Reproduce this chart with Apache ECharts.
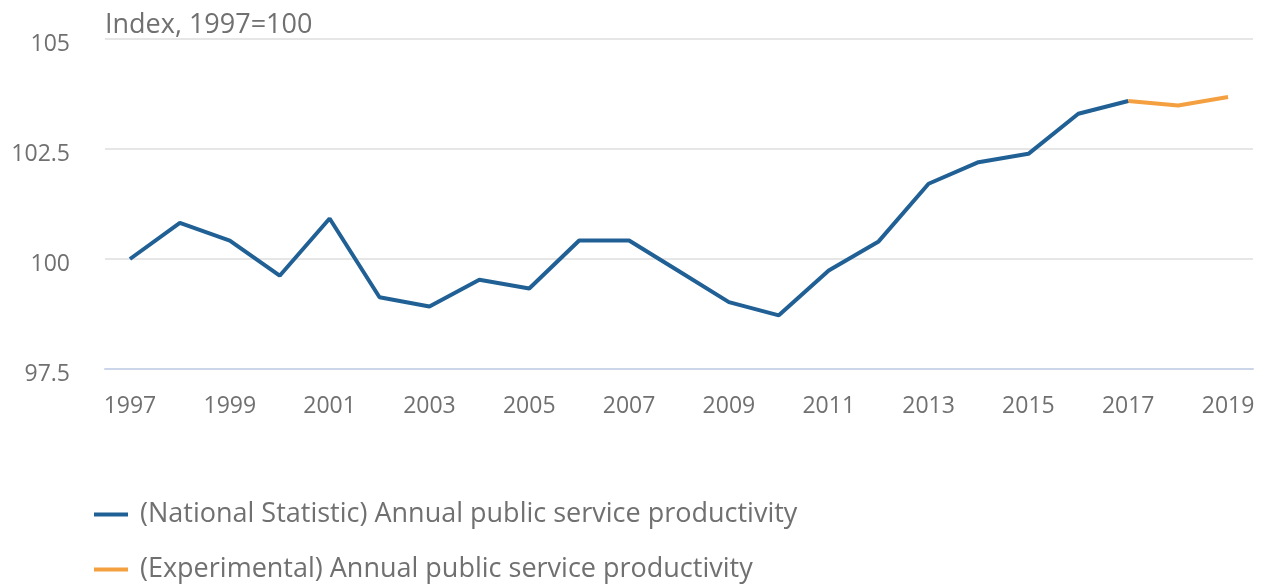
<!DOCTYPE html>
<html>
<head>
<meta charset="utf-8">
<script src="https://cdn.jsdelivr.net/npm/echarts@6/dist/echarts.min.js"></script>
<style>
  html, body { margin: 0; padding: 0; background: #fff; }
  #chart { width: 1265px; height: 584px; }
</style>
</head>
<body>
<div id="chart"></div>
<script>
var years = ['1997', '1998', '1999', '2000', '2001', '2002', '2003', '2004', '2005', '2006', '2007',
             '2008', '2009', '2010', '2011', '2012', '2013', '2014', '2015', '2016', '2017', '2018', '2019'];

// National Statistic series, 1997-2017
var nationalValues = [100, 100.82, 100.42, 99.62, 100.92, 99.13, 98.92, 99.53, 99.33, 100.42, 100.42,
                      99.72, 99.02, 98.72, 99.74, 100.40, 101.71, 102.20, 102.39, 103.30, 103.59, null, null];

// Experimental series, 2017-2019
var experimentalValues = [null, null, null, null, null, null, null, null, null, null, null,
                          null, null, null, null, null, null, null, null, null, 103.59, 103.49, 103.68];

var yTicks = [97.5, 100, 102.5, 105];

var textColor = '#707070';
var font = '"Open Sans", "Noto Sans", sans-serif';

var myChart = echarts.init(document.getElementById('chart'));

var option = {
    animation: false,
    textStyle: { fontFamily: font },
    title: {
        text: 'Index, 1997=100',
        left: 100,
        top: 7,
        textStyle: { color: textColor, fontSize: 27, fontWeight: 'normal', fontFamily: font }
    },
    legend: {
        orient: 'vertical',
        left: 94,
        top: 501,
        padding: 0,
        itemWidth: 34,
        itemHeight: 4,
        itemGap: 28,
        icon: 'rect',
        textStyle: { color: textColor, fontSize: 27, fontFamily: font, padding: [0, 0, 0, 7] },
        data: ['(National Statistic) Annual public service productivity',
               '(Experimental) Annual public service productivity']
    },
    grid: {
        left: 105,
        right: 12,
        top: 39,
        bottom: 215,
        containLabel: false
    },
    xAxis: {
        type: 'category',
        data: years,
        boundaryGap: true,
        axisLine: { lineStyle: { color: '#ccd6eb', width: 2 } },
        axisTick: {
            alignWithLabel: true,
            interval: 1,
            length: 21,
            lineStyle: { color: '#ccd6eb', width: 2 }
        },
        axisLabel: {
            interval: 1,
            color: textColor,
            fontSize: 23,
            fontFamily: font,
            margin: 26
        },
        splitLine: { show: false }
    },
    yAxis: {
        type: 'value',
        min: yTicks[0],
        max: yTicks[yTicks.length - 1],
        interval: 2.5,
        axisLine: { show: false },
        axisTick: { show: false },
        axisLabel: {
            color: textColor,
            fontSize: 23,
            fontFamily: font,
            margin: 35,
            verticalAlign: 'top',
            lineHeight: 11
        },
        splitLine: { lineStyle: { color: '#e6e6e6', width: 2 } }
    },
    series: [
        {
            name: '(National Statistic) Annual public service productivity',
            type: 'line',
            data: nationalValues,
            symbol: 'none',
            color: '#206095',
            lineStyle: { width: 4, color: '#206095' },
            z: 3
        },
        {
            name: '(Experimental) Annual public service productivity',
            type: 'line',
            data: experimentalValues,
            symbol: 'none',
            color: '#f5a040',
            lineStyle: { width: 4, color: '#f5a040' },
            z: 2
        }
    ]
};

myChart.setOption(option);
</script>
</body>
</html>
